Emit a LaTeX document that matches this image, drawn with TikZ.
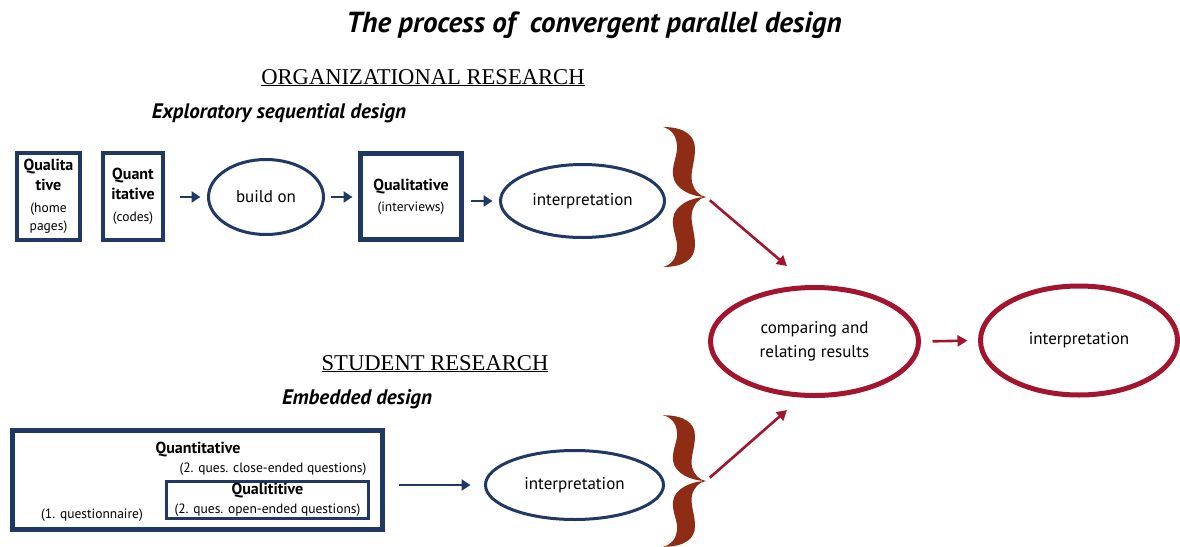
\documentclass[tikz,border=0pt]{standalone}
\usepackage{fontspec}
\usepackage{graphicx}
\setmainfont{PT Sans}
\newfontfamily\headfont{Liberation Serif}
\usetikzlibrary{shapes.geometric,arrows.meta}

\definecolor{navy}{HTML}{1F3864}
\definecolor{crimson}{HTML}{A3152F}
\definecolor{bracecol}{HTML}{8F2C16}

\newcommand{\bigbold}{\fontsize{16}{20}\selectfont\bfseries}
\newcommand{\smalltxt}{\fontsize{13.5}{18}\selectfont}
\newcommand{\ovaltxt}{\fontsize{17}{24}\selectfont}

\tikzset{
  navybox/.style={draw=navy, line width=4pt, inner sep=0pt, align=center,
    font=\fontsize{16}{20}\selectfont},
  navyoval/.style={ellipse, draw=navy, line width=3pt, inner sep=0pt, font=\ovaltxt},
  redoval/.style={ellipse, draw=crimson, line width=5pt, inner sep=0pt, align=center, font=\ovaltxt},
  navyarrow/.style={draw=navy, line width=2.6pt, -{Triangle[length=9pt,width=11pt]}},
  redarrow/.style={draw=crimson, line width=2.6pt, -{Triangle[length=10pt,width=11pt]}},
  txt/.style={inner sep=0pt, align=center},
  % curly brace whose point sits at the pic origin
  curlybrace/.pic={
    \foreach \s in {1,-1}{
      \fill[bracecol, yscale=\s]
        (-43,-70) .. controls (-22,-70) and (-11,-62) .. (-11,-48)
        .. controls (-11,-35) and (-16,-25) .. (-14,-15)
        .. controls (-12,-7) and (-7,-1) .. (0,0)
        .. controls (-14,0) and (-32,-8) .. (-33,-22)
        .. controls (-34,-34) and (-28,-42) .. (-29,-52)
        .. controls (-30,-62) and (-35,-68) .. (-43,-70) -- cycle;
    }
  }
}

\begin{document}
\begin{tikzpicture}[x=1pt,y=-1pt]
\useasboundingbox (0,0) rectangle (1180,546);

% headings
\node[txt, font=\fontsize{29}{31}\selectfont\bfseries\itshape] (title) at (594,25)
  {The process of \ convergent parallel design};
\node[txt, anchor=base, font=\headfont\fontsize{22.6}{25}\selectfont] (orgres) at (423,84)
  {\underline{ORGANIZATIONAL RESEARCH}};
\node[txt, font=\fontsize{21}{24}\selectfont\bfseries\itshape] (explo) at (279,113)
  {Exploratory sequential design};
\node[txt, anchor=base, font=\headfont\fontsize{22.6}{25}\selectfont] (stures) at (435,370)
  {\underline{STUDENT RESEARCH}};
\node[txt, font=\fontsize{21}{24}\selectfont\bfseries\itshape] (embed) at (357,399)
  {Embedded design};

% exploratory sequential row
\node[navybox, minimum width=63pt, minimum height=87pt] (qual1) at (48.5,196.5)
  {{\bigbold Qualita}\\{\bigbold tive}\\[2pt]{\smalltxt (home}\\[-2pt]{\smalltxt pages)}};
\node[navybox, minimum width=60pt, minimum height=87pt] (quant1) at (133,196.5)
  {{\bigbold Quant}\\{\bigbold itative}\\[2pt]{\smalltxt (codes)}};
\node[navyoval, minimum width=115pt, minimum height=75pt] (build) at (266,197) {build on};
\node[navybox, line width=5pt, minimum width=101pt, minimum height=86pt] (qual2) at (411,196.5)
  {{\bigbold Qualitative}\\[1pt]{\smalltxt (interviews)}};
\node[navyoval, minimum width=164pt, minimum height=73pt] (interp1) at (582.5,201) {interpretation};

\draw[navyarrow, shorten <=15pt, shorten >=6.5pt] (quant1.east |- build.west) -- (build.west);
\draw[navyarrow, shorten <=5.5pt, shorten >=5.5pt] (build.east) -- (build.east -| qual2.west);
\draw[navyarrow, shorten <=6.5pt, shorten >=6.5pt] (qual2.east |- interp1.west) -- (interp1.west);

% embedded design block
\node[navybox, line width=5pt, minimum width=370pt, minimum height=99pt] (embbox) at (197.5,480) {};
\node[txt, font=\bigbold] (quant2) at (198,450) {Quantitative};
\node[txt, font=\smalltxt] (closeq) at (273,469) {(2. ques. close-ended questions)};
\node[txt, font=\smalltxt] (questn) at (92,515) {(1. questionnaire)};
\node[navybox, line width=3pt, minimum width=202pt, minimum height=37pt] (qual3) at (267.5,500)
  {{\bigbold Qualititive}\\[-1pt]{\smalltxt (2. ques. open-ended questions)}};
\node[navyoval, minimum width=178pt, minimum height=69pt] (interp2) at (574.5,485) {interpretation};
\draw[navyarrow, shorten <=13.5pt, shorten >=13.5pt] (embbox.east |- interp2.west) -- (interp2.west);

% braces and merge
\pic at (706,197) {curlybrace};
\pic[yscale=0.94] at (706,481) {curlybrace};
\coordinate (b1) at (706,197);
\coordinate (b2) at (706,481);
\coordinate (t1) at (787,266);
\coordinate (t2) at (787,410);

\node[redoval, minimum width=208pt, minimum height=108pt] (compare) at (814.5,341.5)
  {comparing and\\relating results};
\node[redoval, minimum width=197pt, minimum height=109pt] (interp3) at (1079,340.5) {interpretation};

\draw[redarrow, shorten <=5pt] (b1) -- (t1);
\draw[redarrow, shorten <=5pt] (b2) -- (t2);
\draw[redarrow, shorten <=11.5pt, shorten >=10.5pt] (compare.east) -- (interp3.west);
\end{tikzpicture}
\end{document}
